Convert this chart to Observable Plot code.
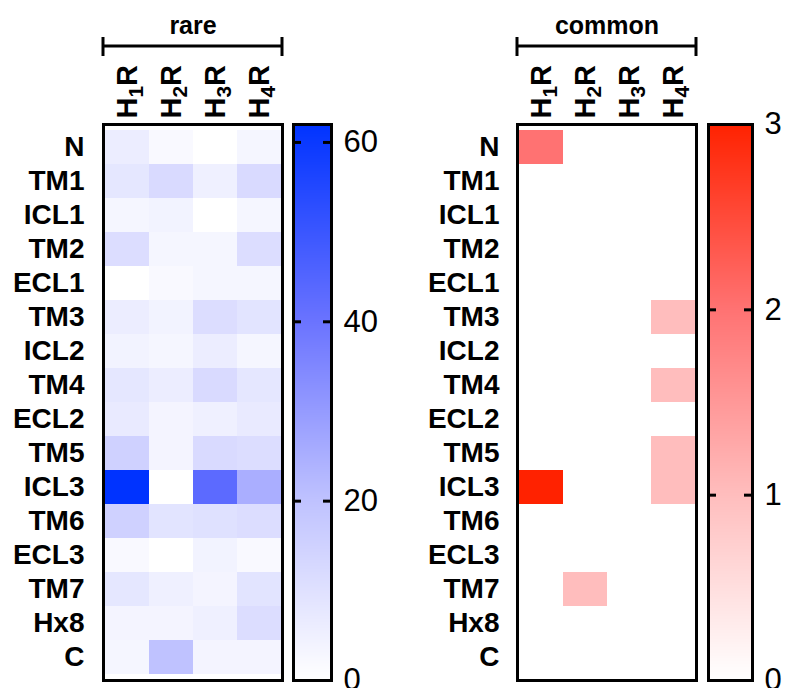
<!DOCTYPE html>
<html><head><meta charset="utf-8">
<script src="https://cdn.jsdelivr.net/npm/d3@7"></script>
<script src="https://cdn.jsdelivr.net/npm/@observablehq/plot@0.6"></script>
<style>
body{margin:0;background:#fff;}
#chart{position:relative;width:789px;height:688px;overflow:hidden;background:#fff;}
#chart svg{position:absolute;top:0;overflow:visible;}
</style></head><body><div id="chart"></div>
<script>
const regions = ["N","TM1","ICL1","TM2","ECL1","TM3","ICL2","TM4","ECL2","TM5","ICL3","TM6","ECL3","TM7","Hx8","C"];
const receptors = ["H1R","H2R","H3R","H4R"];

const rareH1R = [6, 8, 3, 11, 0, 6, 4, 8, 7, 15, 62, 15, 2, 8, 3.5, 3];
const rareH2R = [2, 12, 4, 3, 2, 4, 3, 6, 3.5, 3.5, 0, 9, 0, 5, 3.5, 20];
const rareH3R = [0, 5, 0, 3, 3, 11, 6, 12, 5, 12, 43, 10, 4, 3.5, 5, 3.5];
const rareH4R = [3, 12, 3, 11, 3, 9, 3, 8, 7, 11, 25, 11, 2, 9, 11, 3.5];

const commonH1R = [2, 0, 0, 0, 0, 0, 0, 0, 0, 0, 3, 0, 0, 0, 0, 0];
const commonH2R = [0, 0, 0, 0, 0, 0, 0, 0, 0, 0, 0, 0, 0, 1, 0, 0];
const commonH3R = [0, 0, 0, 0, 0, 0, 0, 0, 0, 0, 0, 0, 0, 0, 0, 0];
const commonH4R = [0, 0, 0, 0, 0, 1, 0, 1, 0, 1, 1, 0, 0, 0, 0, 0];

const rareTicks = [0, 20, 40, 60];
const commonTicks = [0, 1, 2, 3];
const rareMax = 62;
const commonMax = 3;

const FONT = "'Liberation Sans', Arial, Helvetica, sans-serif";

function table(series) {
  return receptors.flatMap((r, j) => regions.map((g, i) => ({receptor: r, region: g, value: series[j][i]})));
}

const rareColor = {type: "linear", domain: [0, 20, 40, 62], range: ["#ffffff", "#bfc2ff", "#6a73ff", "#0033ff"], interpolate: "rgb"};
const commonColor = {type: "linear", domain: [0, 1, 2, 3], range: ["#ffffff", "#ffbdbd", "#ff7272", "#ff2200"], interpolate: "rgb"};

function bracket() {
  return (index, scales, values, dimensions) => {
    const x1 = dimensions.marginLeft, x2 = dimensions.width - dimensions.marginRight;
    const g = d3.create("svg:g").attr("stroke", "#000").attr("stroke-width", 3).attr("fill", "none");
    g.append("line").attr("x1", x1).attr("x2", x2).attr("y1", 46).attr("y2", 46);
    g.append("line").attr("x1", x1).attr("x2", x1).attr("y1", 37).attr("y2", 56);
    g.append("line").attr("x1", x2).attr("x2", x2).attr("y1", 37).attr("y2", 56);
    return g.node();
  };
}

// render "H1R" as H with a subscript digit, then R
function subscriptLabels(svg) {
  svg.querySelectorAll('[aria-label="x-axis tick label"] text').forEach(t => {
    const s = t.textContent;
    const m = s.match(/^(H)(\d)(R)$/);
    if (!m) return;
    t.textContent = "";
    const ns = "http://www.w3.org/2000/svg";
    const a = document.createElementNS(ns, "tspan"); a.textContent = m[1];
    const b = document.createElementNS(ns, "tspan"); b.textContent = m[2];
    b.setAttribute("font-size", "0.72em"); b.setAttribute("dy", "0.28em");
    const c = document.createElementNS(ns, "tspan"); c.textContent = m[3];
    c.setAttribute("dy", "-0.2em");
    t.append(a, b, c);
  });
}

function heatmap({data, title, color, left, width, marginLeft, marginRight, yPad}) {
  const svg = Plot.plot({
    width, height: 688, marginLeft, marginRight, marginTop: 124, marginBottom: 8,
    style: {fontFamily: FONT, color: "#000", background: "transparent", overflow: "visible"},
    x: {domain: receptors, padding: 0},
    y: {domain: regions, padding: 0},
    color,
    marks: [
      Plot.cell(data, {x: "receptor", y: "region", fill: "value"}),
      Plot.frame({stroke: "#000", strokeWidth: 3}),
      Plot.axisX({anchor: "top", tickRotate: -90, tickSize: 0, tickPadding: 6, fontSize: 29, fontWeight: "bold", label: null}),
      Plot.axisY({anchor: "left", tickSize: 0, tickPadding: yPad, fontSize: 28, fontWeight: "bold", label: null}),
      Plot.text([title], {frameAnchor: "top", dy: -99, lineAnchor: "middle", fontSize: 25, fontWeight: "bold"}),
      bracket()
    ]
  });
  subscriptLabels(svg);
  svg.style.left = left + "px";
  return svg;
}

function colorbar({color, max, ticks, tickMarks, left, width, marginLeft, marginRight, barWidth}) {
  const n = 556;
  const steps = d3.range(n).map(i => i * max / n);
  const svg = Plot.plot({
    width, height: 688, marginLeft, marginRight, marginTop: 124, marginBottom: 8,
    style: {fontFamily: FONT, color: "#000", background: "transparent", overflow: "visible"},
    y: {domain: [0, max]},
    color,
    marks: [
      Plot.rect(steps, {y1: d => d, y2: d => d + max / n * 1.6, fill: d => d, shapeRendering: "crispEdges"}),
      Plot.tickY(tickMarks, {y: d => d, insetRight: barWidth - 8, stroke: "#000", strokeWidth: 3}),
      Plot.tickY(tickMarks, {y: d => d, insetLeft: barWidth - 8, stroke: "#000", strokeWidth: 3}),
      Plot.frame({stroke: "#000", strokeWidth: 3}),
      Plot.axisY(ticks, {anchor: "right", tickSize: 0, tickPadding: 12, fontSize: 31, tickFormat: "d", label: null})
    ]
  });
  svg.style.left = left + "px";
  return svg;
}

const chart = document.getElementById("chart");
chart.append(heatmap({
  data: table([rareH1R, rareH2R, rareH3R, rareH4R]), title: "rare", color: rareColor,
  left: 0, width: 290, marginLeft: 103, marginRight: 8, yPad: 19
}));
chart.append(colorbar({
  color: rareColor, max: rareMax, ticks: rareTicks, tickMarks: [20, 40, 60],
  left: 290, width: 110, marginLeft: 3, marginRight: 69, barWidth: 38
}));
chart.append(heatmap({
  data: table([commonH1R, commonH2R, commonH3R, commonH4R]), title: "common", color: commonColor,
  left: 400, width: 300, marginLeft: 117, marginRight: 4, yPad: 18
}));
chart.append(colorbar({
  color: commonColor, max: commonMax, ticks: commonTicks, tickMarks: [1, 2],
  left: 700, width: 89, marginLeft: 8, marginRight: 37, barWidth: 44
}));
</script>
</body></html>
